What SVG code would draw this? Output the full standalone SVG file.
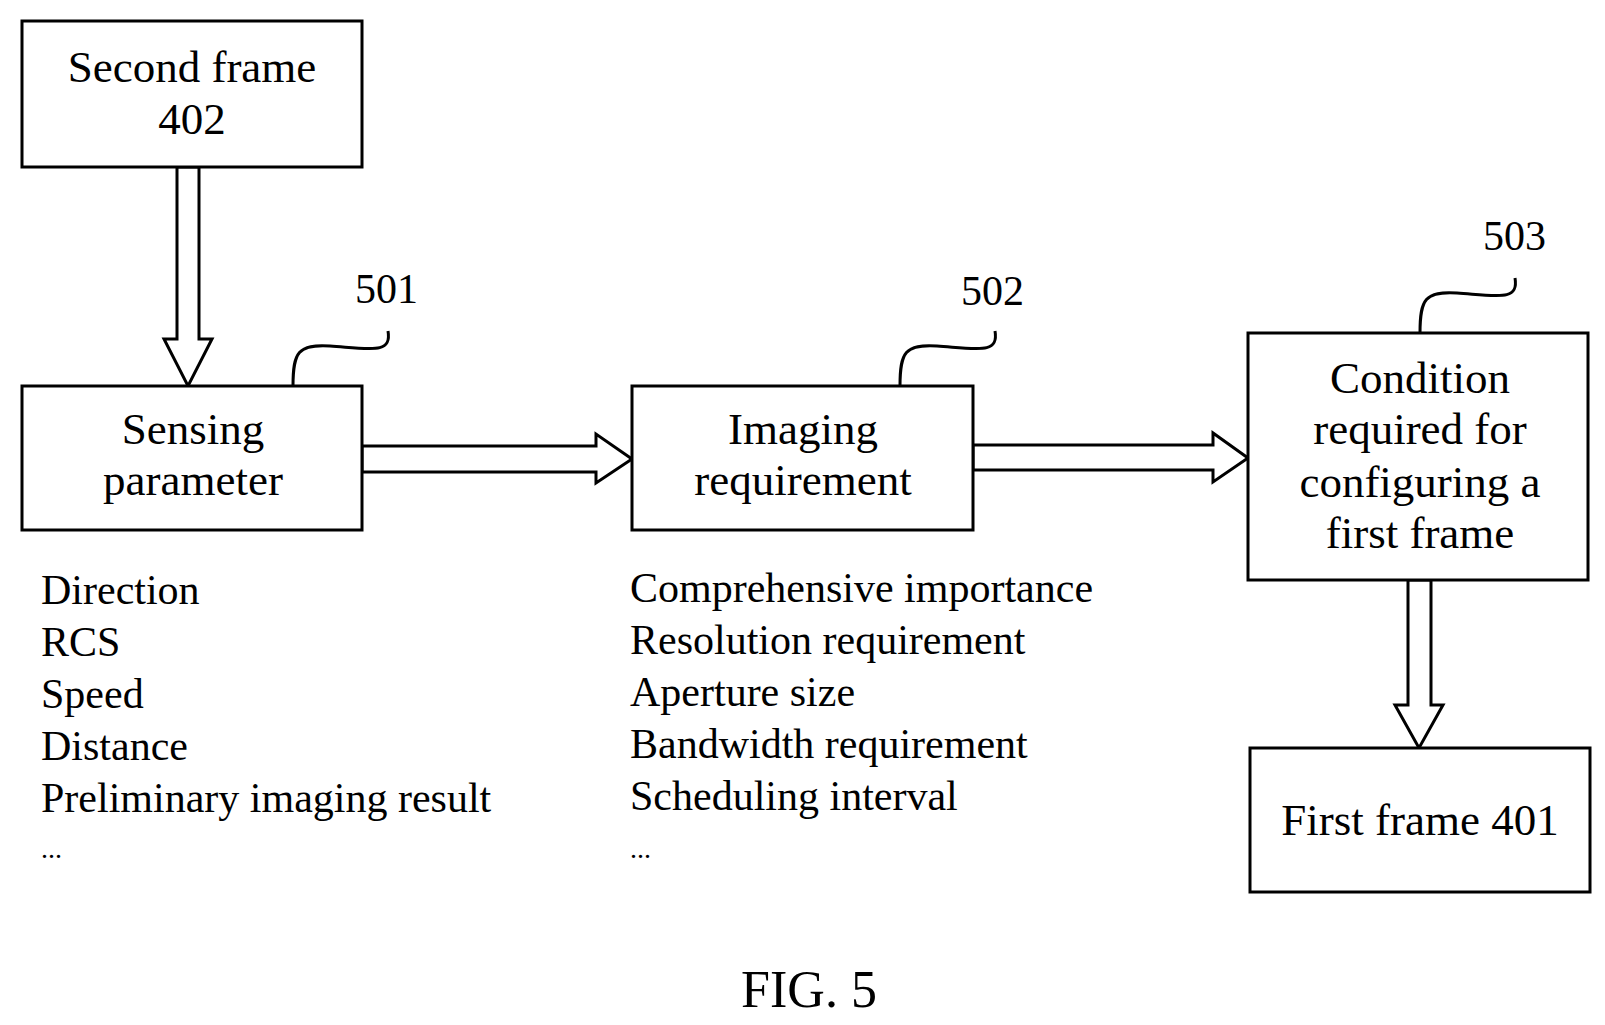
<svg xmlns="http://www.w3.org/2000/svg" width="1605" height="1025" viewBox="0 0 1605 1025">
<style>
.b{fill:#fff;stroke:#000;stroke-width:3}
.a{fill:#fff;stroke:#000;stroke-width:3;stroke-linejoin:miter}
.s{fill:none;stroke:#000;stroke-width:3}
text{font-family:"Liberation Serif","Times New Roman",serif;fill:#000}
.t{font-size:45px;text-anchor:middle}
.l{font-size:42px}
.n{font-size:42px}
</style>
<rect width="1605" height="1025" fill="#fff"/>
<g id="connectors">
<polygon class="a" points="177,167 199,167 199,339 212,339 188,386 164,339 177,339"/>
<polygon class="a" points="362,446 596,446 596,434 632,459 596,483 596,472 362,472"/>
<polygon class="a" points="973,445 1213,445 1213,433 1248,458 1213,482 1213,470 973,470"/>
<polygon class="a" points="1408,580 1431,580 1431,705 1443,705 1419,748 1395,705 1408,705"/>
<path class="s" d="M293 386 C293 352 298 344 330 346 C372 349 392 354 388 331"/>
<path class="s" d="M900 386 C900 352 905 344 937 346 C979 349 999 354 995 331"/>
<path class="s" d="M1420 333 C1420 299 1425 291 1457 293 C1499 296 1519 301 1515 278"/>
</g>
<g id="n402"><rect class="b" x="22" y="21" width="340" height="146"/>
<text class="t" x="192" y="82">Second frame</text><text class="t" x="192" y="134">402</text></g>
<g id="n501"><rect class="b" x="22" y="386" width="340" height="144"/>
<text class="t" x="193" y="444">Sensing</text><text class="t" x="193" y="495">parameter</text>
<text class="n" x="355" y="303">501</text></g>
<g id="n502"><rect class="b" x="632" y="386" width="341" height="144"/>
<text class="t" x="803" y="444">Imaging</text><text class="t" x="803" y="495">requirement</text>
<text class="n" x="961" y="305">502</text></g>
<g id="n503"><rect class="b" x="1248" y="333" width="340" height="247"/>
<text class="t" x="1420" y="393">Condition</text><text class="t" x="1420" y="444">required for</text>
<text class="t" x="1420" y="497">configuring a</text><text class="t" x="1420" y="548">first frame</text>
<text class="n" x="1483" y="250">503</text></g>
<g id="n401"><rect class="b" x="1250" y="748" width="340" height="144"/>
<text class="t" x="1420" y="835">First frame 401</text></g>
<g id="list1" class="l">
<text class="l" x="41" y="604">Direction</text>
<text class="l" x="41" y="656">RCS</text>
<text class="l" x="41" y="708">Speed</text>
<text class="l" x="41" y="760">Distance</text>
<text class="l" x="41" y="812">Preliminary imaging result</text>
<text class="l" x="41" y="858" style="font-size:28px">...</text>
</g>
<g id="list2">
<text class="l" x="630" y="602">Comprehensive importance</text>
<text class="l" x="630" y="654">Resolution requirement</text>
<text class="l" x="630" y="706">Aperture size</text>
<text class="l" x="630" y="758">Bandwidth requirement</text>
<text class="l" x="630" y="810">Scheduling interval</text>
<text class="l" x="630" y="858" style="font-size:28px">...</text>
</g>
<text x="809" y="1007" style="font-size:52px;text-anchor:middle">FIG. 5</text>
</svg>
